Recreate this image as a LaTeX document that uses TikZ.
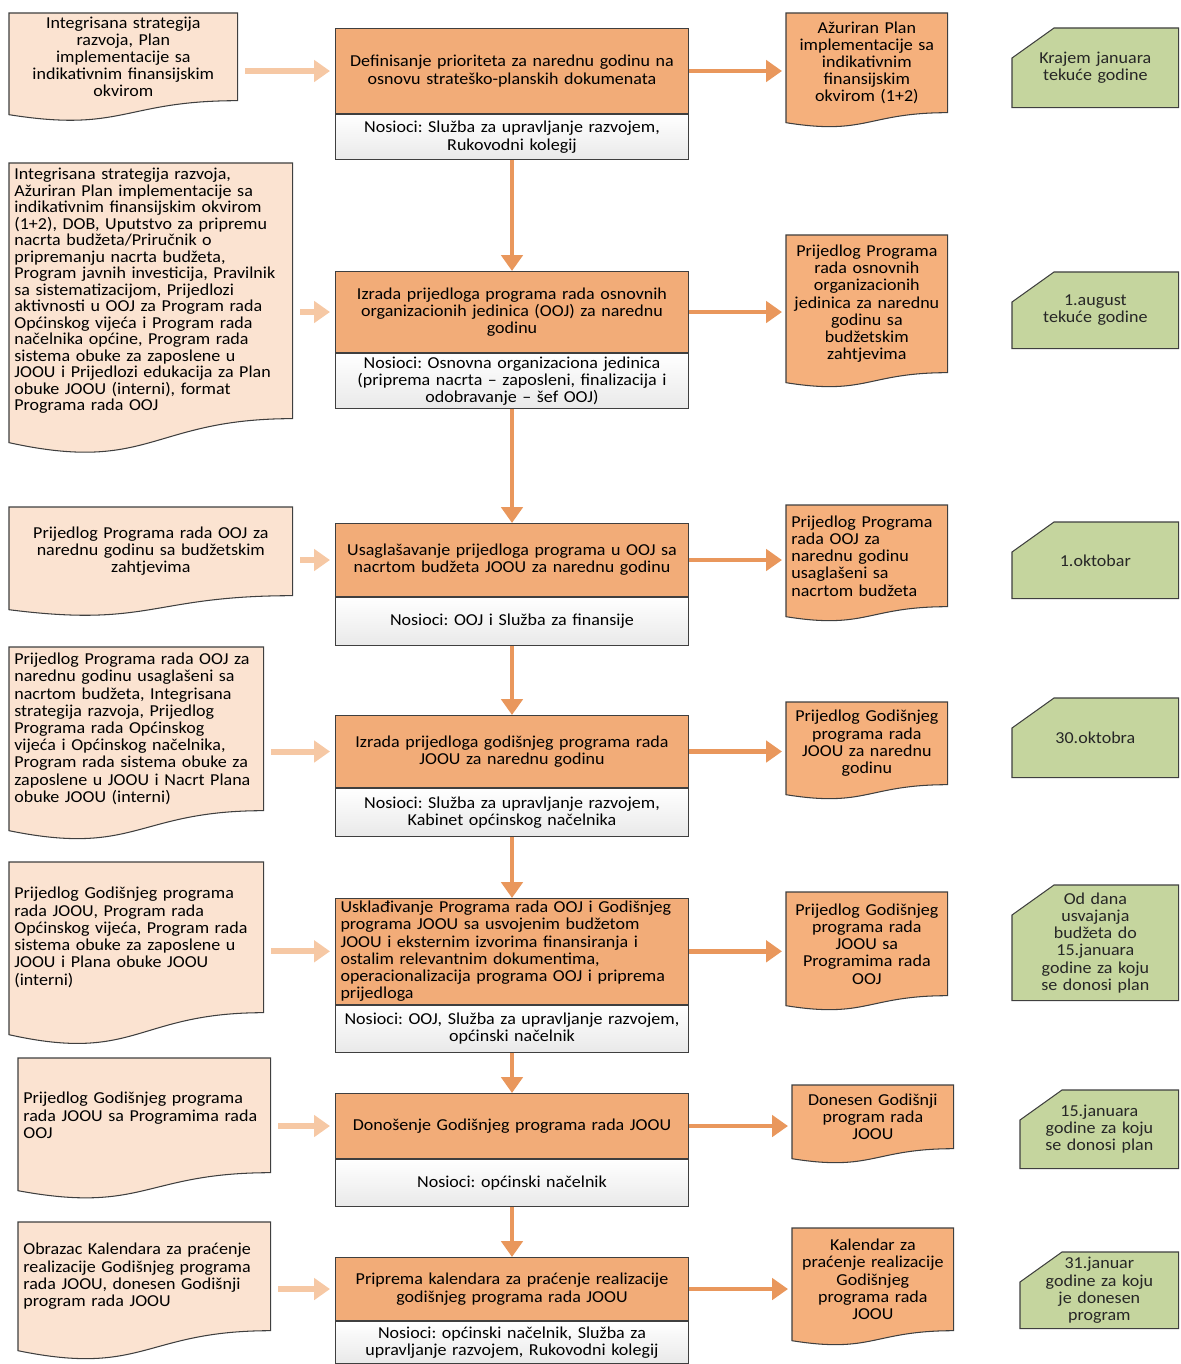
\documentclass[tikz,border=0pt]{standalone}
\usepackage{fontspec}
\setmainfont{Carlito}[FakeStretch=1.08]
\frenchspacing
\usetikzlibrary{arrows.meta,calc,backgrounds}

\definecolor{edge}{HTML}{3F3F3F}
\definecolor{taskfill}{HTML}{F2AC78}
\definecolor{ownerfill}{HTML}{E9E9E9}
\definecolor{infill}{HTML}{FBE3D1}
\definecolor{outfill}{HTML}{F5B07C}
\definecolor{datefill}{HTML}{C5D59E}
\definecolor{inarrow}{HTML}{F6C8A4}
\definecolor{outarrow}{HTML}{E9975C}

\begin{document}
\begin{tikzpicture}[x=0.02cm, y=-0.02cm,
    every node/.style={anchor=north west, inner xsep=0.1cm, inner ysep=0.05cm, font=\fontsize{9.5}{9.8}\selectfont},
    task/.style={draw=edge, line width=0.6pt, fill=taskfill, text width=6.86cm, align=center},
    owner/.style={task, top color=white, bottom color=ownerfill},
    indoc/.style={align=left},
    outdoc/.style={text width=3.02cm, align=center},
    deadline/.style={text width=3.12cm, align=center, text=black!85},
    inflow/.style={line width=3.4pt, inarrow, -{Triangle[length=9pt,width=12pt]}, shorten <=0.15cm, shorten >=0.1cm},
    flow/.style={line width=2.8pt, outarrow, -{Triangle[length=9pt,width=12pt]}},
]
    \useasboundingbox (0,0) rectangle (1180,1364);

    \node[task, minimum height=1.70cm] (t1) at (335,28) {Definisanje prioriteta za narednu godinu na\\ osnovu strateško-planskih dokumenata};
    \node[owner, minimum height=0.90cm] (o1) at (t1.south west) {Nosioci: Služba za upravljanje razvojem,\\ Rukovodni kolegij};
    \node[task, minimum height=1.62cm] (t2) at (335,271) {Izrada prijedloga programa rada osnovnih\\ organizacionih jedinica (OOJ) za narednu\\ godinu};
    \node[owner, minimum height=1.10cm] (o2) at (t2.south west) {Nosioci: Osnovna organizaciona jedinica\\ (priprema nacrta -- zaposleni, finalizacija i\\ odobravanje -- šef OOJ)};
    \node[task, minimum height=1.46cm] (t3) at (335,523) {Usaglašavanje prijedloga programa u OOJ sa\\ nacrtom budžeta JOOU za narednu godinu};
    \node[owner, minimum height=0.96cm] (o3) at (t3.south west) {Nosioci: OOJ i Služba za finansije};
    \node[task, minimum height=1.44cm] (t4) at (335,715) {Izrada prijedloga godišnjeg programa rada\\ JOOU za narednu godinu};
    \node[owner, minimum height=0.96cm] (o4) at (t4.south west) {Nosioci: Služba za upravljanje razvojem,\\ Kabinet općinskog načelnika};
    \node[task, minimum height=2.00cm, align=left] (t5) at (335,898) {Usklađivanje Programa rada OOJ i Godišnjeg\\ programa JOOU sa usvojenim budžetom\\ JOOU i eksternim izvorima finansiranja i\\ ostalim relevantnim dokumentima,\\ operacionalizacija programa OOJ i priprema\\ prijedloga};
    \node[owner, minimum height=0.94cm] (o5) at (t5.south west) {Nosioci: OOJ, Služba za upravljanje razvojem,\\ općinski načelnik};
    \node[task, minimum height=1.30cm] (t6) at (335,1093) {Donošenje Godišnjeg programa rada JOOU};
    \node[owner, minimum height=0.94cm] (o6) at (t6.south west) {Nosioci: općinski načelnik};
    \node[task, minimum height=1.26cm] (t7) at (335,1257) {Priprema kalendara za praćenje realizacije\\ godišnjeg programa rada JOOU};
    \node[owner, minimum height=0.84cm] (o7) at (t7.south west) {Nosioci: općinski načelnik, Služba za\\ upravljanje razvojem, Rukovodni kolegij};

    \node[indoc, text width=4.36cm, minimum height=1.74cm, align=center] (l1) at (9,13) {Integrisana strategija\\ razvoja, Plan\\ implementacije sa\\ indikativnim finansijskim\\ okvirom};
    \node[indoc, text width=5.46cm, minimum height=5.10cm, font=\fontsize{9.5}{9.4}\selectfont] (l2) at (9,163) {Integrisana strategija razvoja,\\ Ažuriran Plan implementacije sa\\ indikativnim finansijskim okvirom\\ (1+2), DOB, Uputstvo za pripremu\\ nacrta budžeta/Priručnik o\\ pripremanju nacrta budžeta,\\ Program javnih investicija, Pravilnik\\ sa sistematizacijom, Prijedlozi\\ aktivnosti u OOJ za Program rada\\ Općinskog vijeća i Program rada\\ načelnika općine, Program rada\\ sistema obuke za zaposlene u\\ JOOU i Prijedlozi edukacija za Plan\\ obuke JOOU (interni), format\\ Programa rada OOJ};
    \node[indoc, text width=5.46cm, minimum height=1.76cm, align=center] (l3) at (9,507) {Prijedlog Programa rada OOJ za\\ narednu godinu sa budžetskim\\ zahtjevima};
    \node[indoc, text width=4.88cm, minimum height=3.26cm] (l4) at (9,647) {Prijedlog Programa rada OOJ za\\ narednu godinu usaglašeni sa\\ nacrtom budžeta, Integrisana\\ strategija razvoja, Prijedlog\\ Programa rada Općinskog\\ vijeća i Općinskog načelnika,\\ Program rada sistema obuke za\\ zaposlene u JOOU i Nacrt Plana\\ obuke JOOU (interni)};
    \node[indoc, text width=4.88cm, minimum height=3.00cm] (l5) at (9,862) {Prijedlog Godišnjeg programa\\ rada JOOU, Program rada\\ Općinskog vijeća, Program rada\\ sistema obuke za zaposlene u\\ JOOU i Plana obuke JOOU\\ (interni)};
    \node[indoc, text width=4.84cm, minimum height=2.28cm] (l6) at (18,1058) {Prijedlog Godišnjeg programa\\ rada JOOU sa Programima rada\\ OOJ};
    \node[indoc, text width=4.84cm, minimum height=2.16cm] (l7) at (18,1222) {Obrazac Kalendara za praćenje\\ realizacije Godišnjeg programa\\ rada JOOU, donesen Godišnji\\ program rada JOOU};

    \node[outdoc, minimum height=1.98cm] (r1) at (786,13) {Ažuriran Plan\\ implementacije sa\\ indikativnim\\ finansijskim\\ okvirom (1+2)};
    \node[outdoc, minimum height=2.74cm] (r2) at (786,235) {Prijedlog Programa\\ rada osnovnih\\ organizacionih\\ jedinica za narednu\\ godinu sa\\ budžetskim\\ zahtjevima};
    \node[outdoc, minimum height=2.02cm, align=left] (r3) at (786,505) {Prijedlog Programa\\ rada OOJ za\\ narednu godinu\\ usaglašeni sa\\ nacrtom budžeta};
    \node[outdoc, minimum height=1.64cm] (r4) at (786,702) {Prijedlog Godišnjeg\\ programa rada\\ JOOU za narednu\\ godinu};
    \node[outdoc, minimum height=2.06cm] (r5) at (786,892) {Prijedlog Godišnjeg\\ programa rada\\ JOOU sa\\ Programima rada\\ OOJ};
    \node[outdoc, minimum height=1.26cm] (r6) at (792,1085) {Donesen Godišnji\\ program rada\\ JOOU};
    \node[outdoc, minimum height=2.04cm] (r7) at (792,1228) {Kalendar za\\ praćenje realizacije\\ Godišnjeg\\ programa rada\\ JOOU};

    \node[deadline, minimum height=1.58cm] (g1) at (1012,28) {Krajem januara\\ tekuće godine};
    \node[deadline, minimum height=1.52cm] (g2) at (1012,272) {1.august\\ tekuće godine};
    \node[deadline, minimum height=1.52cm] (g3) at (1012,522) {1.oktobar};
    \node[deadline, minimum height=1.58cm] (g4) at (1012,698) {30.oktobra};
    \node[deadline, minimum height=2.30cm] (g5) at (1012,885) {Od dana\\ usvajanja\\ budžeta do\\ 15.januara\\ godine za koju\\ se donosi plan};
    \node[deadline, text width=2.96cm, minimum height=1.56cm] (g6) at (1020,1090) {15.januara\\ godine za koju\\ se donosi plan};
    \node[deadline, text width=2.96cm, minimum height=1.52cm] (g7) at (1020,1252) {31.januar\\ godine za koju\\ je donesen\\ program};

    \begin{scope}[on background layer]
        \foreach \n/\c/\w in {l1/infill/14, l2/infill/24, l3/infill/14, l4/infill/20, l5/infill/22, l6/infill/18, l7/infill/20, r1/outfill/10, r2/outfill/10, r3/outfill/10, r4/outfill/10, r5/outfill/10, r6/outfill/10, r7/outfill/10} {
            \filldraw[draw=edge, line width=0.6pt, fill=\c] (\n.north west) -- (\n.north east) -- (\n.south east) .. controls (\n.south) and ($(\n.south)+(0,2.3*\w)$) .. ($(\n.south west)+(0,\w)$) -- cycle;
        }
        \foreach \i in {1,...,7} {
            \filldraw[draw=edge, line width=0.6pt, fill=datefill] (g\i.south west) -- ($(g\i.north west)+(0,30)$) -- ($(g\i.north west)+(42,0)$) -- (g\i.north east) -- (g\i.south east) -- cycle;
        }
    \end{scope}

    \foreach \i in {1,...,7} {
        \draw[inflow] (l\i.east |- t\i.west) -- (t\i.west);
        \draw[flow, shorten >=0.08cm] (t\i.east) -- (r\i.west |- t\i.east);
    }
    \foreach \i [count=\j from 2] in {1,...,6} {
        \draw[flow] (o\i.south) -- (t\j.north);
    }
\end{tikzpicture}
\end{document}
